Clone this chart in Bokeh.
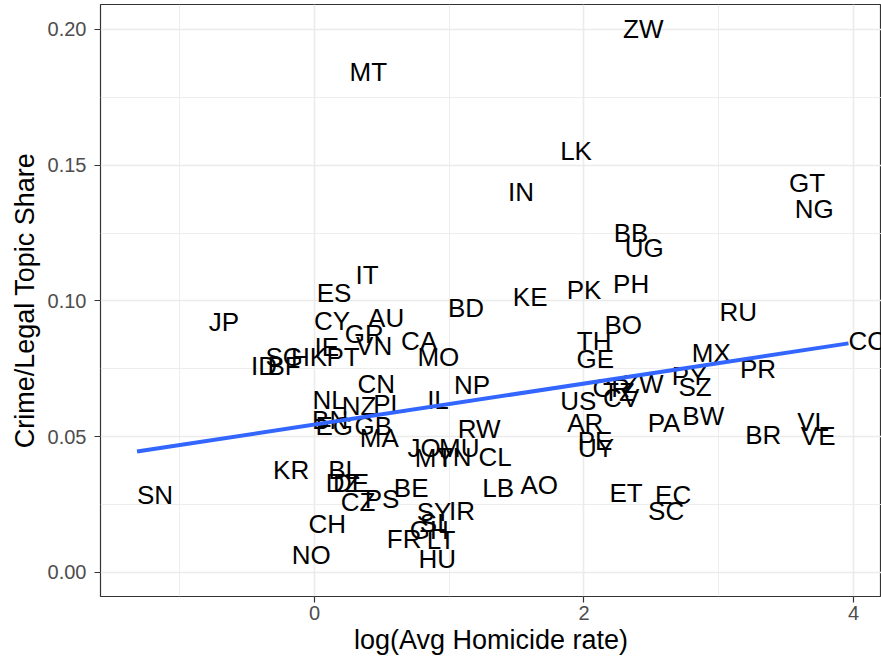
import numpy as np
from bokeh.plotting import figure
from bokeh.models import ColumnDataSource, FixedTicker, NumeralTickFormatter, Range1d
from bokeh.core.properties import value
from bokeh.embed import file_html
from bokeh.resources import INLINE

codes = ["ZW", "MT", "LK", "IN", "GT", "NG", "BB", "UG", "PH", "PK",
         "KE", "BD", "RU", "IT", "ES", "JP", "CY", "AU", "GR", "VN",
         "CA", "MO", "IE", "PT", "CN", "NL", "NZ", "PL", "IL", "NP",
         "BN", "EG", "GB", "MA", "RW", "JO", "MY", "TN", "MU", "CL",
         "KR", "BL", "DZ", "DE", "CZ", "PS", "BE", "SY", "IR", "SI",
         "GH", "LT", "FR", "HU", "CH", "NO", "SN", "LB", "AO", "ET",
         "EC", "SC", "BR", "VL", "VE", "CO", "PR", "MX", "PY", "SZ",
         "BW", "PA", "ZW", "CR", "CV", "TZ", "US", "AR", "PE", "UY",
         "TH", "BO", "GE", "ID", "BF", "SG", "HK"]

log_homicide = [2.290, 0.260, 1.823, 1.436, 3.522, 3.564, 2.221, 2.302, 2.216, 1.872,
                1.472, 0.991, 3.006, 0.304, 0.017, -0.784, -0.003, 0.398, 0.224, 0.309,
                0.643, 0.764, 0.001, 0.089, 0.319, -0.015, 0.203, 0.436, 0.836, 1.036,
                -0.018, 0.007, 0.297, 0.336, 1.063, 0.690, 0.744, 0.908, 0.925, 1.217,
                -0.307, 0.102, 0.084, 0.138, 0.195, 0.373, 0.589, 0.759, 0.998, 0.781,
                0.707, 0.834, 0.537, 0.772, -0.045, -0.169, -1.317, 1.245, 1.529, 2.189,
                2.528, 2.476, 3.196, 3.582, 3.609, 3.963, 3.158, 2.800, 2.652, 2.701,
                2.730, 2.473, 2.290, 2.063, 2.142, 2.142, 1.823, 1.875, 1.954, 1.956,
                1.947, 2.152, 1.944, -0.471, -0.349, -0.364, -0.174]

crime_share = [0.2000, 0.1845, 0.1551, 0.1403, 0.1433, 0.1337, 0.1249, 0.1197, 0.1061, 0.1042,
               0.1013, 0.0976, 0.0961, 0.1094, 0.1031, 0.0921, 0.0928, 0.0939, 0.0877, 0.0836,
               0.0851, 0.0792, 0.0829, 0.0792, 0.0696, 0.0634, 0.0615, 0.0622, 0.0634, 0.0689,
               0.0560, 0.0541, 0.0541, 0.0497, 0.0530, 0.0460, 0.0420, 0.0424, 0.0457, 0.0424,
               0.0379, 0.0376, 0.0331, 0.0331, 0.0258, 0.0269, 0.0313, 0.0221, 0.0225, 0.0184,
               0.0155, 0.0118, 0.0122, 0.0048, 0.0177, 0.0063, 0.0287, 0.0313, 0.0324, 0.0291,
               0.0284, 0.0228, 0.0505, 0.0556, 0.0501, 0.0851, 0.0748, 0.0810, 0.0722, 0.0685,
               0.0578, 0.0552, 0.0696, 0.0681, 0.0641, 0.0663, 0.0630, 0.0552, 0.0486, 0.0460,
               0.0851, 0.0913, 0.0788, 0.0762, 0.0759, 0.0792, 0.0792]

# linear fit shown in the chart
fit_intercept = 0.0545
fit_slope = 0.00754

x_ticks = [0, 2, 4]
x_minor = [-1, 1, 3]
y_ticks = [0.0, 0.05, 0.10, 0.15, 0.20]
y_minor = [0.025, 0.075, 0.125, 0.175]

FONT = "Liberation Sans"

src = ColumnDataSource(dict(x=log_homicide, y=crime_share, code=codes))

p = figure(width=881, height=661, output_backend="svg", toolbar_location=None,
           x_range=Range1d(-1.588, 4.208), y_range=Range1d(-0.00884, 0.2092),
           min_border_left=100, min_border_right=0, min_border_top=4, min_border_bottom=65,
           background_fill_color="white", border_fill_color="white")

p.outline_line_color = "#333333"
p.outline_line_width = 1.2

p.xaxis.ticker = FixedTicker(ticks=x_ticks, minor_ticks=x_minor)
p.yaxis.ticker = FixedTicker(ticks=y_ticks, minor_ticks=y_minor)
p.yaxis.formatter = NumeralTickFormatter(format="0.00")

for ax in (p.xaxis, p.yaxis):
    ax.axis_line_color = None
    ax.major_tick_line_color = "#333333"
    ax.major_tick_line_width = 1.2
    ax.major_tick_out = 6
    ax.major_tick_in = 0
    ax.minor_tick_line_color = None
    ax.major_label_text_font = FONT
    ax.major_label_text_font_size = "20px"
    ax.major_label_text_color = "#4D4D4D"
    ax.axis_label_text_font = FONT
    ax.axis_label_text_font_size = "27px"
    ax.axis_label_text_font_style = "normal"
    ax.axis_label_text_color = "black"

p.xaxis.axis_label = "log(Avg Homicide rate)"
p.yaxis.axis_label = "Crime/Legal Topic Share"
p.xaxis.major_label_standoff = 3
p.yaxis.major_label_standoff = 8
p.xaxis.axis_label_standoff = 2
p.yaxis.axis_label_standoff = 5

for g in (p.xgrid, p.ygrid):
    g.grid_line_color = "#EBEBEB"
    g.grid_line_width = 1.6
    g.minor_grid_line_color = "#EBEBEB"
    g.minor_grid_line_width = 0.9

p.text(x="x", y="y", text="code", source=src, text_align="left",
       text_baseline="middle", text_font=value(FONT), text_font_size="26px",
       text_color="black")

xa = np.array(log_homicide)
xs = np.array([xa.min(), xa.max()])
p.line(xs, fit_intercept + fit_slope * xs, line_color="#3366FF", line_width=4)

open("out.html", "w").write(file_html(p, INLINE))
